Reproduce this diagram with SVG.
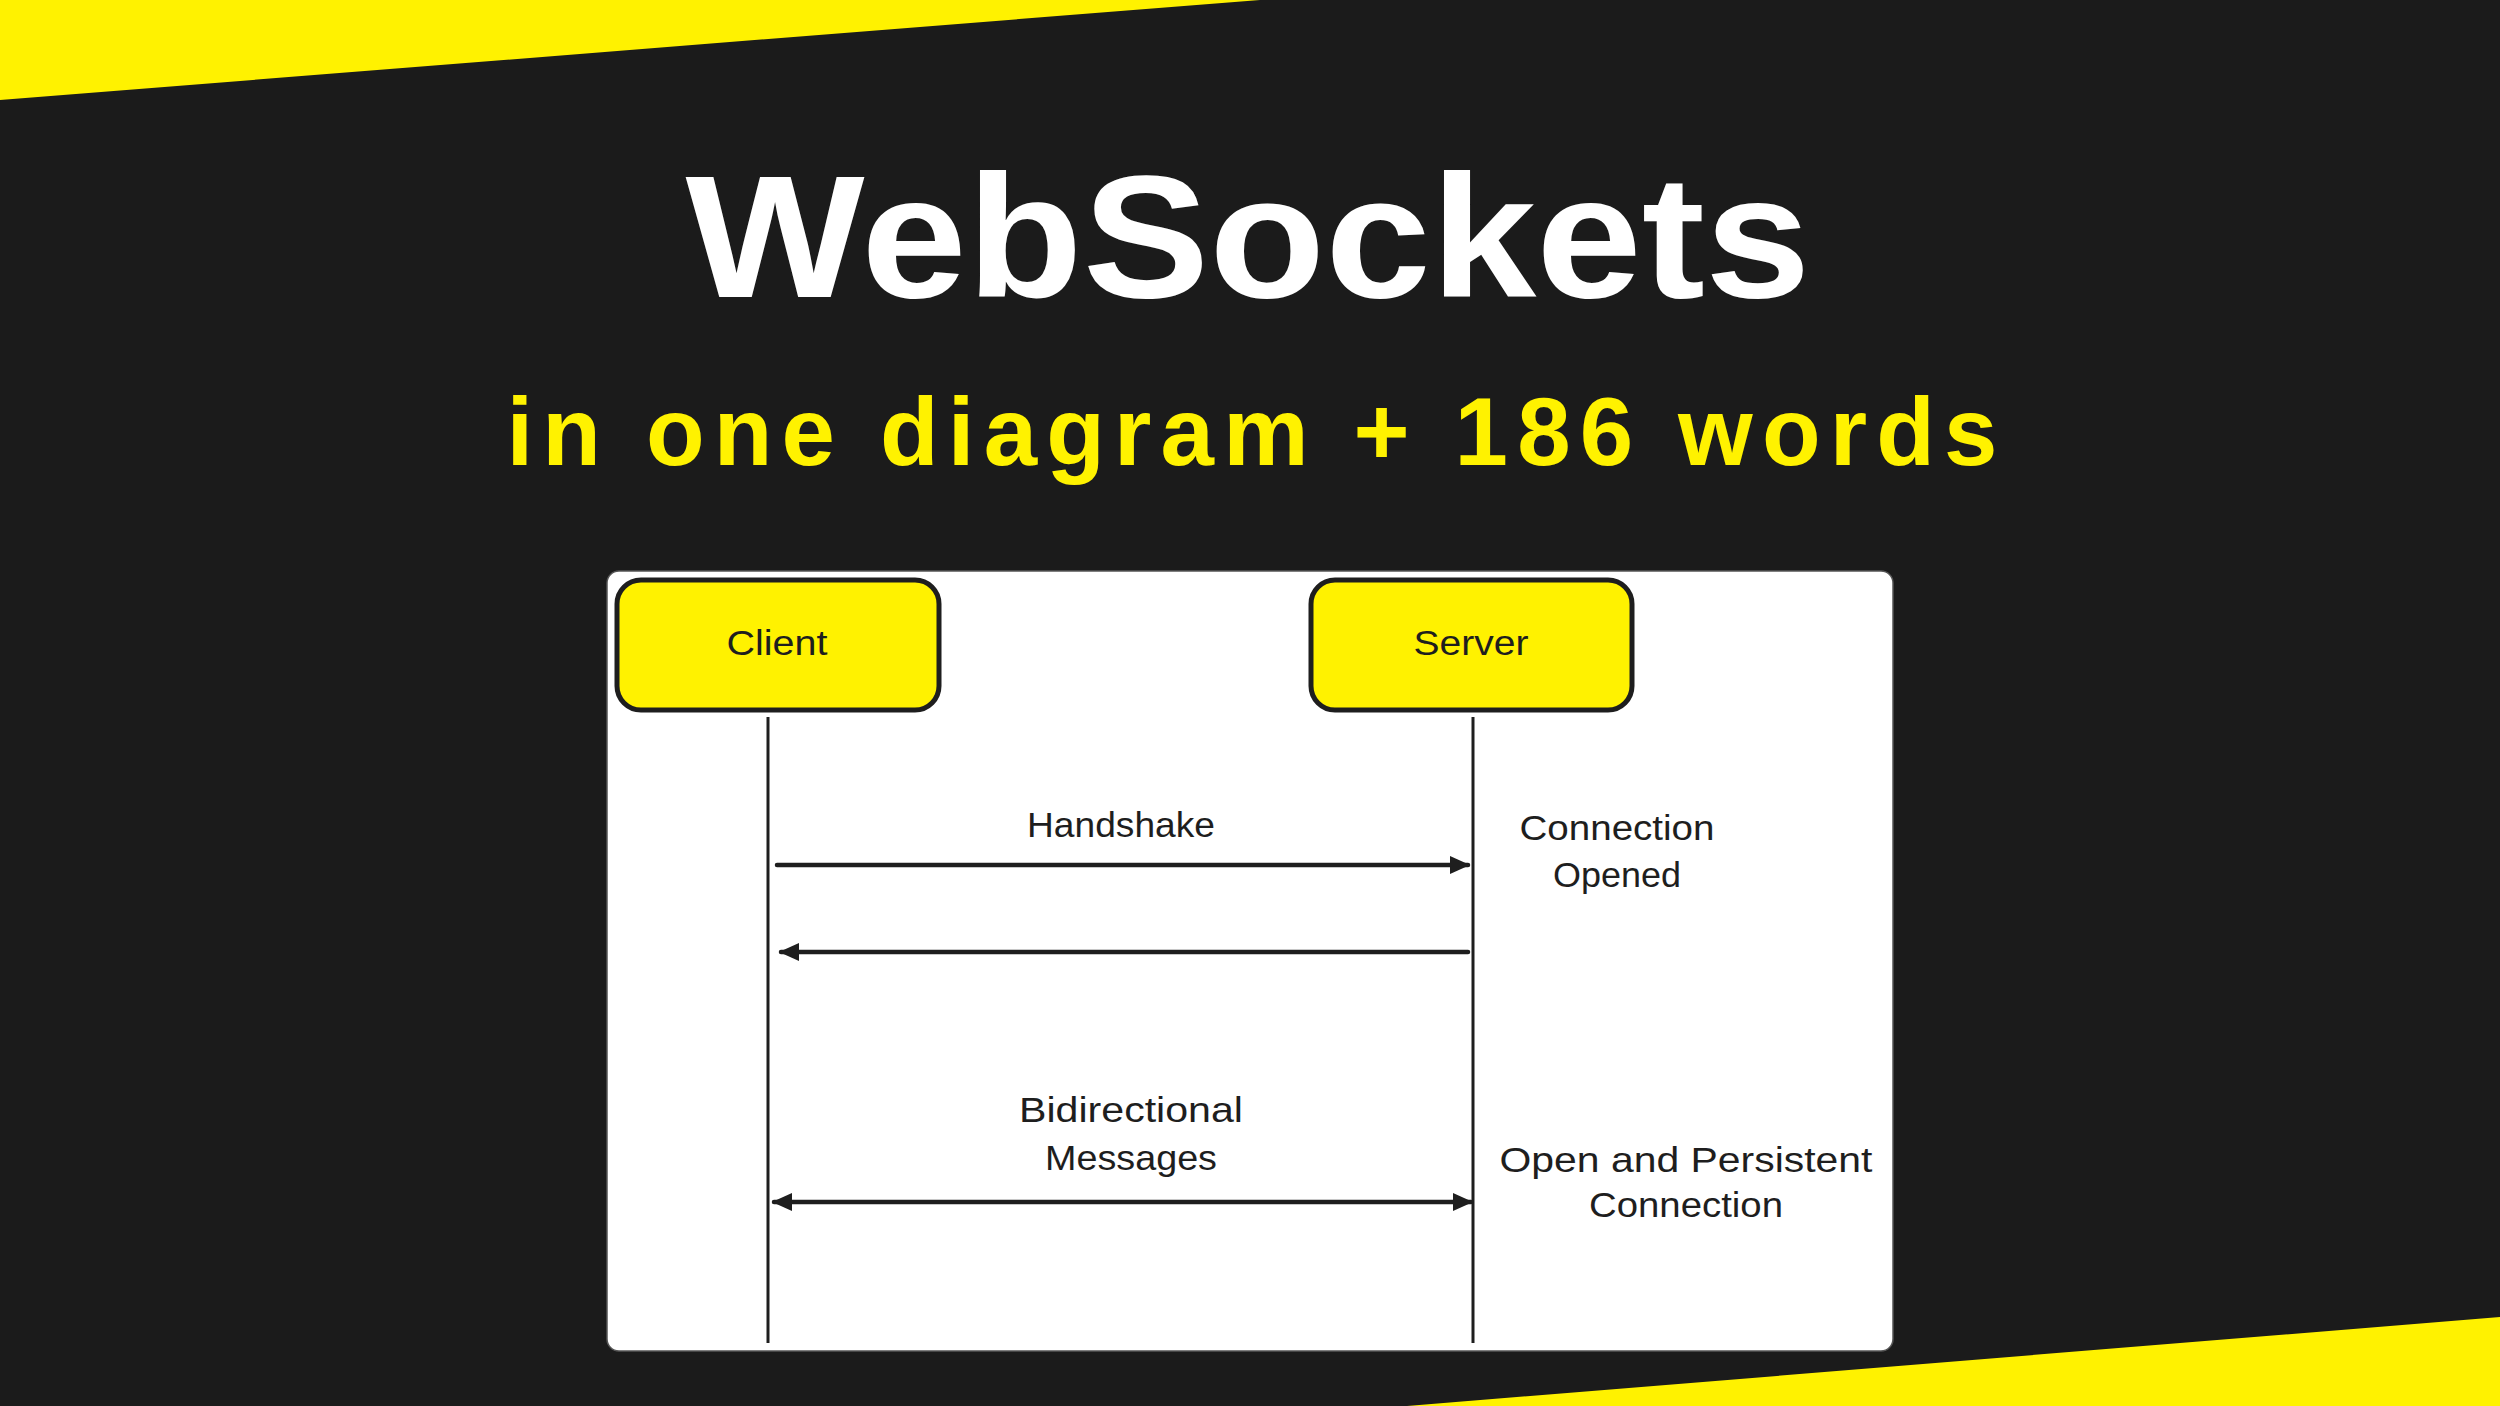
<svg xmlns="http://www.w3.org/2000/svg" width="2500" height="1406" viewBox="0 0 2500 1406">
  <style>
    .lbl { font-family: "Liberation Sans", "DejaVu Sans", sans-serif; font-size: 35px; fill: #1e1e1e; text-anchor: middle; }
    .box { fill: #fff200; stroke: #1e1e1e; stroke-width: 5; }
    .life { stroke: #1e1e1e; stroke-width: 3; fill: none; }
    .msg { stroke: #1e1e1e; stroke-width: 4.5; fill: none; stroke-linecap: round; }
  </style>
  <defs>
    <marker id="ah" markerUnits="userSpaceOnUse" viewBox="0 0 20 18" refX="18" refY="9" markerWidth="20" markerHeight="18" orient="auto-start-reverse">
      <path d="M0,0 L20,9 L0,18 Z" fill="#1e1e1e"/>
    </marker>
  </defs>
  <rect x="0" y="0" width="2500" height="1406" fill="#1b1b1b"/>
  <polygon points="0,0 1260,0 0,100" fill="#fff200"/>
  <polygon points="2500,1317 2500,1406 1407,1406" fill="#fff200"/>
  <text x="1248" y="297" font-family="Liberation Sans, DejaVu Sans, sans-serif" font-size="175" font-weight="bold" fill="#ffffff" text-anchor="middle" textLength="1125" lengthAdjust="spacingAndGlyphs">WebSockets</text>
  <text x="1252" y="465" font-family="Liberation Sans, DejaVu Sans, sans-serif" font-size="96" font-weight="bold" fill="#fff200" text-anchor="middle" textLength="1491" lengthAdjust="spacing">in one diagram + 186 words</text>
  <rect x="607" y="571" width="1286" height="780" rx="12" fill="#ffffff" stroke="#555555" stroke-width="1.5"/>
  <g id="client">
    <rect class="box" x="617" y="580" width="322" height="130" rx="24"/>
    <text class="lbl" x="777" y="655" textLength="101" lengthAdjust="spacingAndGlyphs">Client</text>
  </g>
  <g id="server">
    <rect class="box" x="1311" y="580" width="321" height="130" rx="24"/>
    <text class="lbl" x="1471" y="655" textLength="115" lengthAdjust="spacingAndGlyphs">Server</text>
  </g>
  <g id="connectors">
    <line class="life" x1="768" y1="717" x2="768" y2="1343"/>
    <line class="life" x1="1473" y1="717" x2="1473" y2="1343"/>
    <line class="msg" x1="777" y1="865" x2="1468" y2="865" marker-end="url(#ah)"/>
    <line class="msg" x1="1468" y1="952" x2="781" y2="952" marker-end="url(#ah)"/>
    <line class="msg" x1="774" y1="1202" x2="1471" y2="1202" marker-start="url(#ah)" marker-end="url(#ah)"/>
  </g>
  <g id="labels">
    <text class="lbl" x="1121" y="837" textLength="188" lengthAdjust="spacingAndGlyphs">Handshake</text>
    <text class="lbl" x="1617" y="840" textLength="195" lengthAdjust="spacingAndGlyphs">Connection</text>
    <text class="lbl" x="1617" y="887" textLength="128" lengthAdjust="spacingAndGlyphs">Opened</text>
    <text class="lbl" x="1131" y="1122" textLength="224" lengthAdjust="spacingAndGlyphs">Bidirectional</text>
    <text class="lbl" x="1131" y="1170" textLength="172" lengthAdjust="spacingAndGlyphs">Messages</text>
    <text class="lbl" x="1686" y="1172" textLength="373" lengthAdjust="spacingAndGlyphs">Open and Persistent</text>
    <text class="lbl" x="1686" y="1217" textLength="194" lengthAdjust="spacingAndGlyphs">Connection</text>
  </g>
</svg>
